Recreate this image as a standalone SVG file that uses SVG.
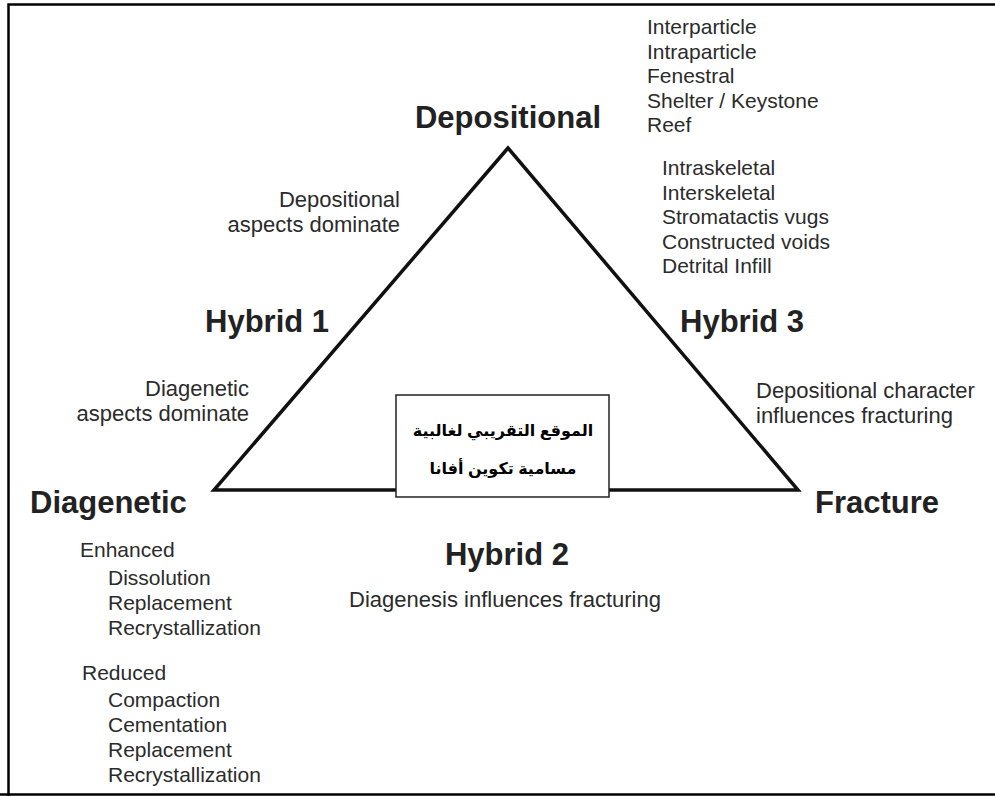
<svg xmlns="http://www.w3.org/2000/svg" width="995" height="796" viewBox="0 0 995 796">
<style>
text{font-family:"Liberation Sans",Arial,sans-serif;fill:#2b2b2b}
.h{font-size:31px;font-weight:bold;fill:#222}
.s{font-size:21px}
.m{font-size:22px}
.ar{font-family:"Liberation Sans","DejaVu Sans","Noto Sans",sans-serif;font-size:16px;font-weight:bold;fill:#000}
</style>
<rect width="995" height="796" fill="#fff"/>
<path d="M8.5,796 V4.5 H995 M0,794.5 H995" fill="none" stroke="#000" stroke-width="2.5"/>
<g id="connectors">
<polygon points="508,148 214,490 798,490" fill="none" stroke="#111" stroke-width="3.5" stroke-linejoin="miter"/>
</g>
<g id="depositional">
<text class="h" x="508" y="128" text-anchor="middle">Depositional</text>
<text class="s" x="647" y="34">Interparticle</text>
<text class="s" x="647" y="59">Intraparticle</text>
<text class="s" x="647" y="83">Fenestral</text>
<text class="s" x="647" y="108">Shelter / Keystone</text>
<text class="s" x="647" y="132">Reef</text>
</g>
<g id="hybrid3">
<text class="s" x="662" y="175">Intraskeletal</text>
<text class="s" x="662" y="200">Interskeletal</text>
<text class="s" x="662" y="224">Stromatactis vugs</text>
<text class="s" x="662" y="249">Constructed voids</text>
<text class="s" x="662" y="273">Detrital Infill</text>
<text class="h" x="680" y="332">Hybrid 3</text>
<text class="m" x="756" y="398">Depositional character</text>
<text class="m" x="756" y="423">influences fracturing</text>
</g>
<g id="hybrid1">
<text class="m" x="400" y="207" text-anchor="end">Depositional</text>
<text class="m" x="400" y="232" text-anchor="end">aspects dominate</text>
<text class="h" x="205" y="332">Hybrid 1</text>
<text class="m" x="249" y="396" text-anchor="end">Diagenetic</text>
<text class="m" x="249" y="421" text-anchor="end">aspects dominate</text>
</g>
<g id="center">
<rect x="396" y="395" width="213" height="102" fill="#fff" stroke="#222" stroke-width="1.5"/>
<text class="ar" x="503" y="436" text-anchor="middle" direction="rtl">الموقع التقريبي لغالبية</text>
<text class="ar" x="503" y="474" text-anchor="middle" direction="rtl">مسامية تكوين أفانا</text>
</g>
<g id="diagenetic">
<text class="h" x="30" y="513">Diagenetic</text>
<text class="s" x="80" y="557">Enhanced</text>
<text class="s" x="108" y="585">Dissolution</text>
<text class="s" x="108" y="610">Replacement</text>
<text class="s" x="108" y="635">Recrystallization</text>
<text class="s" x="82" y="680">Reduced</text>
<text class="s" x="108" y="707">Compaction</text>
<text class="s" x="108" y="732">Cementation</text>
<text class="s" x="108" y="757">Replacement</text>
<text class="s" x="108" y="782">Recrystallization</text>
</g>
<g id="fracture">
<text class="h" x="815" y="513">Fracture</text>
</g>
<g id="hybrid2">
<text class="h" x="507" y="565" text-anchor="middle">Hybrid 2</text>
<text class="m" x="505" y="607" text-anchor="middle">Diagenesis influences fracturing</text>
</g>
</svg>
